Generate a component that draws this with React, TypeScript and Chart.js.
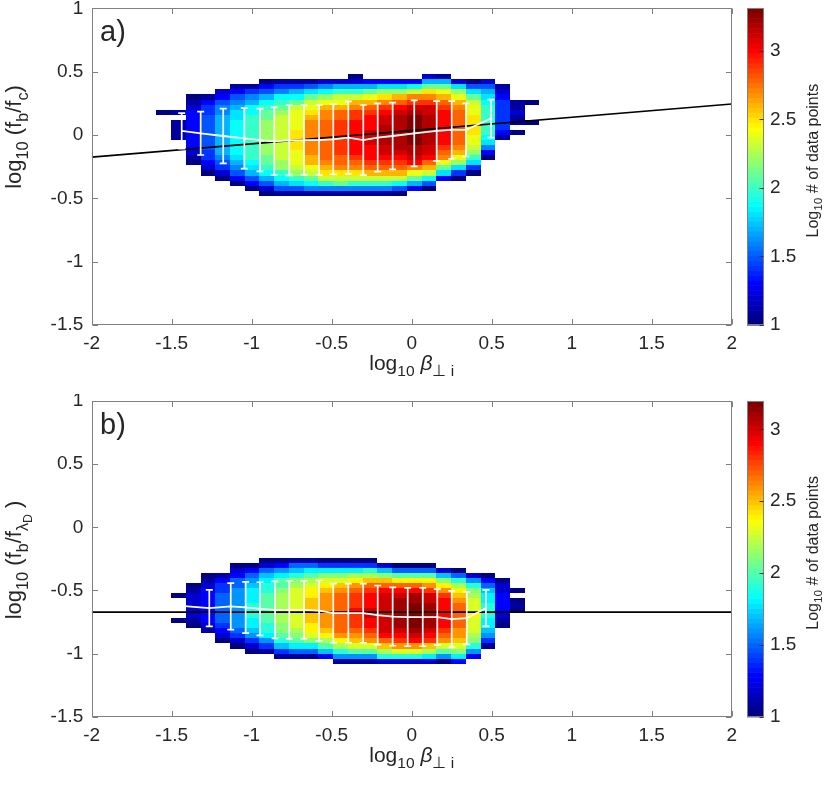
import React, { useEffect, useRef } from 'react';
import { Chart, registerables } from 'chart.js';

Chart.register(...registerables);

// ---------- data ----------
// cell level codes: index in LEVELS -> log10(count) = 1 + 0.1 * index ; '.' = empty
const LEVELS = '0123456789ABCDEFGHIJKLMN';
const X_EDGE0 = -1.596; // left edge of first histogram column (log10 beta)
const BIN_W = 0.0921; // column width

// panel a: rows start at y = 0.52 going down in steps of 0.04
const ROW_TOP_A = 0.52;
const ROW_H_A = 0.04;
const HIST_A: string[] = [
  '........0.................',
  '........1.1111............',
  '.....01233333333210.......',
  '.....1344555555544320.....',
  '....235667777777765420....',
  '...13567889999999876530...',
  '...146799AAAAAAAAA987530..',
  '..03579ABBCCCCCCCBBA97520.',
  '..1469ABCDDDDDDDDDCCA9751.',
  '..1479BDEEEEFFFFEEEDCA851.',
  '..158BDEFGHHHHHHHGGEDB961.',
  '..269CEGHHIIIIIIIIHGFDA61.',
  '..27ADEGIIJJJJJJJIIHFDB61.',
  '.027ADGHJJKKKKKKKJIHFDA61.',
  '..37BEGIJKKKLLLKKKJIGDA61.',
  '..38CFHJKLLMMMMLLKJIGDA61.',
  '..38CGIKLMMMMMMMLKJIGD950.',
  '..39DHJLMNNNNNNMMLKHEB73..',
  '.27BFHJLLMMMMMMLLKIGD950..',
  '.17BEGIJKKKKKKKJIHEB83....',
  '..28CEGHIIIIIIIHGEC840....',
  '..058BDEEFFFFEEDCA840.....',
  '..25789AAAAAA98630........',
  '...12344444431............',
  '......11211.0.............',
  '......0...0...............',
];

// panel b: rows start at y = -0.20 going down in steps of 0.04
const ROW_TOP_B = -0.2;
const ROW_H_B = 0.04;
const HIST_B: string[] = [
  '........................',
  '........0....0..........',
  '......012222210.........',
  '....012333333321........',
  '....13445555554320......',
  '..02355666666665420.....',
  '..035678889998876420....',
  '.0257899AAAAAA998641....',
  '.0368AABCCCCCCBBA9741...',
  '.1579BCDDDDEDDDCBA851...',
  '.158ACDEEFFFFFEEDB851...',
  '.048BDEFGGGGGGGFECA73...',
  '.048BDFGHHHHHHHHGEC961..',
  '.048CEGHIIIJIIIHGFDA61..',
  '.049CFHIJJJKKJJIHGDA61..',
  '..27BFHJKKKKKKKKJHFC92..',
  '..05AEHJKLLLLLLKJIGD92..',
  '..05AEHJLLMMMMMLKJGD92..',
  '..05AEGIKKLLLLLKJIFC82..',
  '...27BEGIJJJJJJIHGDA60..',
  '...059CEFGHHHHHGGFDB83..',
  '....269BCDDDEDDDCB963...',
  '....035788999887641.....',
  '.....0223333210.........',
  '.......0.010............',
  '........................',
];

// binned means with standard deviations
const A_X = [-1.4375, -1.319, -1.178, -1.046, -0.948, -0.859, -0.765, -0.673, -0.579, -0.49, -0.396, -0.3025, -0.2125, -0.119, 0.016, 0.156, 0.25, 0.339, 0.496];
const A_MEAN = [0.032, 0.013, -0.008, -0.026, -0.04, -0.05, -0.042, -0.04, -0.04, -0.034, -0.021, -0.04, -0.02, -0.008, 0.013, 0.032, 0.04, 0.04, 0.13];
const A_STD = [0.14, 0.171, 0.216, 0.239, 0.248, 0.268, 0.277, 0.277, 0.277, 0.277, 0.287, 0.277, 0.27, 0.263, 0.261, 0.236, 0.228, 0.21, 0.15];

const B_X = [-1.42, -1.265, -1.131, -1.038, -0.948, -0.854, -0.765, -0.673, -0.579, -0.49, -0.396, -0.303, -0.2125, -0.119, -0.025, 0.069, 0.16, 0.25, 0.344, 0.464];
const B_MEAN = [-0.625, -0.64, -0.627, -0.635, -0.646, -0.654, -0.654, -0.654, -0.66, -0.68, -0.68, -0.68, -0.695, -0.707, -0.711, -0.711, -0.711, -0.727, -0.72, -0.64];
const B_STD = [0, 0.145, 0.184, 0.2025, 0.2105, 0.225, 0.2305, 0.2305, 0.2385, 0.2345, 0.2345, 0.2345, 0.234, 0.231, 0.231, 0.231, 0.2215, 0.224, 0.208, 0.145];

// reference lines
const FIT_A_X = [-2, 2];
const FIT_A_Y = [-0.175, 0.245];
const FIT_B_X = [-2, 2];
const FIT_B_Y = [-0.672, -0.672];

// colour bar ranges
const CB_A: [number, number] = [1, 3.31];
const CB_B: [number, number] = [1, 3.197];

type Part = [string, number]; // text, style: 0 normal, 1 sub, 2 sub-sub, 3 italic
const Y_TITLE_A: Part[] = [['log', 0], ['10', 1], [' (f', 0], ['b', 1], ['/f', 0], ['c', 1], [')', 0]];
const Y_TITLE_B: Part[] = [['log', 0], ['10', 1], [' (f', 0], ['b', 1], ['/f', 0], ['λ', 1], ['D', 2], [' )', 0]];
const X_TITLE: Part[] = [['log', 0], ['10', 1], [' ', 0], ['β', 3], ['⊥ i', 1]];
const CB_TITLE: Part[] = [['Log', 0], ['10', 1], [' # of data points', 0]];

// ---------- helpers ----------
const FONT = '"Liberation Sans", Arial, Helvetica, sans-serif';
const TXT = '#262626';
const AX = '#808080';

function jet(t: number): string {
  const c = (v: number) => Math.round(255 * Math.max(0, Math.min(1, v)));
  const r = Math.min(4 * t - 1.5, -4 * t + 4.5);
  const g = Math.min(4 * t - 0.5, -4 * t + 3.5);
  const b = Math.min(4 * t + 0.5, -4 * t + 2.5);
  return `rgb(${c(r)},${c(g)},${c(b)})`;
}
function jetVal(v: number, vmin: number, vmax: number): string {
  const idx = Math.max(0, Math.min(63, Math.floor(((v - vmin) / (vmax - vmin)) * 64)));
  return jet(idx / 63);
}

function drawRich(ctx: CanvasRenderingContext2D, parts: Part[], size: number, x: number, y: number, rot: number) {
  ctx.save();
  ctx.translate(x, y);
  ctx.rotate(rot);
  ctx.textBaseline = 'alphabetic';
  ctx.textAlign = 'left';
  ctx.fillStyle = TXT;
  const specs = parts.map(([t, s]) => {
    const sz = s === 1 ? size * 0.74 : s === 2 ? size * 0.56 : size;
    const dy = s === 1 ? size * 0.3 : s === 2 ? size * 0.5 : 0;
    const font = `${s === 3 ? 'italic ' : ''}${sz}px ${FONT}`;
    ctx.font = font;
    return { t, font, dy, w: ctx.measureText(t).width };
  });
  const total = specs.reduce((a, s) => a + s.w, 0);
  let cx = -total / 2;
  specs.forEach((s) => {
    ctx.font = s.font;
    ctx.fillText(s.t, cx, s.dy);
    cx += s.w;
  });
  ctx.restore();
}

interface PanelCfg {
  canvasH: number;
  top: number;
  bottom: number;
  hist: string[];
  rowTop: number;
  rowH: number;
  cb: [number, number];
  mx: number[];
  mean: number[];
  std: number[];
  fitX: number[];
  fitY: number[];
  yTitle: Part[];
  yTitleCenter: number;
  label: string;
}

const PANEL_A: PanelCfg = {
  canvasH: 394, top: 8.4, bottom: 324.9, hist: HIST_A, rowTop: ROW_TOP_A, rowH: ROW_H_A, cb: CB_A,
  mx: A_X, mean: A_MEAN, std: A_STD, fitX: FIT_A_X, fitY: FIT_A_Y, yTitle: Y_TITLE_A, yTitleCenter: 137, label: 'a)',
};
const PANEL_B: PanelCfg = {
  canvasH: 395, top: 7, bottom: 322.7, hist: HIST_B, rowTop: ROW_TOP_B, rowH: ROW_H_B, cb: CB_B,
  mx: B_X, mean: B_MEAN, std: B_STD, fitX: FIT_B_X, fitY: FIT_B_Y, yTitle: Y_TITLE_B, yTitleCenter: 166, label: 'b)',
};

function makeChart(canvas: HTMLCanvasElement, cfg: PanelCfg): Chart {
  const plugin = {
    id: 'panelDecor',
    beforeDatasetsDraw(chart: any) {
      const { ctx, chartArea: a } = chart;
      const xs = chart.scales.x;
      const ys = chart.scales.y;
      ctx.save();
      ctx.beginPath();
      ctx.rect(a.left, a.top, a.right - a.left, a.bottom - a.top);
      ctx.clip();
      cfg.hist.forEach((col, i) => {
        const xl = Math.round(xs.getPixelForValue(X_EDGE0 + i * BIN_W));
        const xr = Math.round(xs.getPixelForValue(X_EDGE0 + (i + 1) * BIN_W));
        for (let k = 0; k < col.length; k++) {
          const idx = LEVELS.indexOf(col[k]);
          if (idx < 0) continue;
          const v = 1 + idx * 0.1;
          const yt = Math.round(ys.getPixelForValue(cfg.rowTop - k * cfg.rowH));
          const yb = Math.round(ys.getPixelForValue(cfg.rowTop - (k + 1) * cfg.rowH));
          ctx.fillStyle = jetVal(v, cfg.cb[0], cfg.cb[1]);
          ctx.fillRect(xl, yt, xr - xl, yb - yt);
        }
      });
      ctx.restore();
    },
    afterDatasetsDraw(chart: any) {
      const { ctx, chartArea: a } = chart;
      const xs = chart.scales.x;
      const ys = chart.scales.y;
      ctx.save();
      ctx.beginPath();
      ctx.rect(a.left, a.top, a.right - a.left, a.bottom - a.top);
      ctx.clip();
      ctx.strokeStyle = '#ffffff';
      ctx.lineWidth = 1.7;
      cfg.mx.forEach((xv, i) => {
        const s = cfg.std[i];
        if (!s) return;
        const px = xs.getPixelForValue(xv);
        const yt = ys.getPixelForValue(cfg.mean[i] + s);
        const yb = ys.getPixelForValue(cfg.mean[i] - s);
        ctx.beginPath();
        ctx.moveTo(px, yt);
        ctx.lineTo(px, yb);
        ctx.moveTo(px - 3.5, yt);
        ctx.lineTo(px + 3.5, yt);
        ctx.moveTo(px - 3.5, yb);
        ctx.lineTo(px + 3.5, yb);
        ctx.stroke();
      });
      ctx.restore();
    },
    afterDraw(chart: any) {
      const { ctx, chartArea: a } = chart;
      const xs = chart.scales.x;
      const ys = chart.scales.y;
      const cb = chart.scales.cb;
      ctx.save();
      // axes box and inward ticks
      ctx.strokeStyle = AX;
      ctx.lineWidth = 1;
      const L = Math.round(a.left) + 0.5;
      const R = Math.round(a.right) - 0.5;
      const T = Math.round(a.top) + 0.5;
      const B = Math.round(a.bottom) - 0.5;
      ctx.strokeRect(L, T, R - L, B - T);
      const tl = 5.5;
      ctx.beginPath();
      xs.ticks.forEach((t: any) => {
        const px = Math.round(xs.getPixelForValue(t.value)) + 0.5;
        ctx.moveTo(px, B); ctx.lineTo(px, B - tl);
        ctx.moveTo(px, T); ctx.lineTo(px, T + tl);
      });
      ys.ticks.forEach((t: any) => {
        const py = Math.round(ys.getPixelForValue(t.value)) + 0.5;
        ctx.moveTo(L, py); ctx.lineTo(L + tl, py);
        ctx.moveTo(R, py); ctx.lineTo(R - tl, py);
      });
      ctx.stroke();

      // colour bar
      const [c0, c1] = cfg.cb;
      const bx0 = 747;
      const bx1 = 764;
      for (let i = 0; i < 64; i++) {
        const v0 = c0 + ((c1 - c0) * i) / 64;
        const v1 = c0 + ((c1 - c0) * (i + 1)) / 64;
        const y0 = cb.getPixelForValue(v0);
        const y1 = cb.getPixelForValue(v1);
        ctx.fillStyle = jet(i / 63);
        ctx.fillRect(bx0, y1, bx1 - bx0, y0 - y1 + 0.6);
      }
      const cbTop = Math.round(cb.getPixelForValue(c1)) + 0.5;
      const cbBot = Math.round(cb.getPixelForValue(c0)) - 0.5;
      ctx.strokeStyle = AX;
      ctx.strokeRect(bx0 + 0.5, cbTop, bx1 - bx0 - 1, cbBot - cbTop);
      ctx.beginPath();
      cb.ticks.forEach((t: any) => {
        const py = Math.round(cb.getPixelForValue(t.value)) + 0.5;
        ctx.moveTo(bx1 - 0.5, py);
        ctx.lineTo(bx1 - 4.5, py);
      });
      ctx.strokeStyle = '#303030';
      ctx.stroke();
      ctx.restore();

      // titles
      drawRich(ctx, cfg.yTitle, 22, 21, cfg.yTitleCenter, -Math.PI / 2);
      drawRich(ctx, X_TITLE, 21, (a.left + a.right) / 2, a.bottom + 45, 0);
      drawRich(ctx, CB_TITLE, 16, 817.5, (a.top + a.bottom) / 2 - 6, -Math.PI / 2);
      ctx.save();
      ctx.font = `29px ${FONT}`;
      ctx.fillStyle = TXT;
      ctx.textBaseline = 'alphabetic';
      ctx.textAlign = 'left';
      ctx.fillText(cfg.label, 100, a.top + 33);
      ctx.restore();
    },
  };

  const tickFont = { family: FONT, size: 19 };
  const fmt = (v: any) => String(v);

  return new Chart(canvas, {
    type: 'scatter',
    data: {
      datasets: [
        {
          data: cfg.mx.map((x, i) => ({ x, y: cfg.mean[i] })),
          showLine: true,
          borderColor: '#ffffff',
          borderWidth: 1.8,
          pointRadius: 0,
          tension: 0,
        },
        {
          data: cfg.fitX.map((x, i) => ({ x, y: cfg.fitY[i] })),
          showLine: true,
          borderColor: '#000000',
          borderWidth: 1.6,
          pointRadius: 0,
          tension: 0,
        },
      ],
    },
    options: {
      animation: false,
      responsive: false,
      events: [],
      layout: { padding: { top: cfg.top, left: 0, right: 0, bottom: 0 } },
      plugins: { legend: { display: false }, tooltip: { enabled: false }, title: { display: false } },
      scales: {
        x: {
          type: 'linear',
          position: 'bottom',
          min: -2,
          max: 2,
          ticks: { stepSize: 0.5, autoSkip: false, maxRotation: 0, padding: 7.6, color: TXT, font: tickFont, callback: fmt },
          grid: { display: false, drawTicks: false },
          border: { display: false },
          afterFit: (s: any) => {
            s.height = cfg.canvasH - cfg.bottom;
            s.paddingLeft = 0;
            s.paddingRight = 0;
          },
        },
        y: {
          type: 'linear',
          position: 'left',
          min: -1.5,
          max: 1,
          ticks: { stepSize: 0.5, autoSkip: false, padding: 8.4, color: TXT, font: tickFont, callback: fmt },
          grid: { display: false, drawTicks: false },
          border: { display: false },
          afterFit: (s: any) => {
            s.width = 91.7;
            s.paddingTop = 0;
            s.paddingBottom = 0;
          },
        },
        cb: {
          type: 'linear',
          position: 'right',
          min: cfg.cb[0],
          max: cfg.cb[1],
          ticks: { stepSize: 0.5, includeBounds: false, autoSkip: false, padding: 38.3, color: TXT, font: tickFont, callback: fmt },
          grid: { display: false, drawTicks: false },
          border: { display: false },
          afterFit: (s: any) => {
            s.width = 830 - 731.7;
            s.paddingTop = 0;
            s.paddingBottom = 0;
          },
        },
      },
    } as any,
    plugins: [plugin as any],
  });
}

export default function App() {
  const refA = useRef<HTMLCanvasElement>(null);
  const refB = useRef<HTMLCanvasElement>(null);
  useEffect(() => {
    const ca = makeChart(refA.current as HTMLCanvasElement, PANEL_A);
    const cbb = makeChart(refB.current as HTMLCanvasElement, PANEL_B);
    return () => {
      ca.destroy();
      cbb.destroy();
    };
  }, []);
  return (
    <div style={{ position: 'absolute', left: 0, top: 0, width: 830, height: 789, background: '#ffffff' }}>
      <canvas ref={refA} width={830} height={394} style={{ display: 'block' }} />
      <canvas ref={refB} width={830} height={395} style={{ display: 'block' }} />
    </div>
  );
}
